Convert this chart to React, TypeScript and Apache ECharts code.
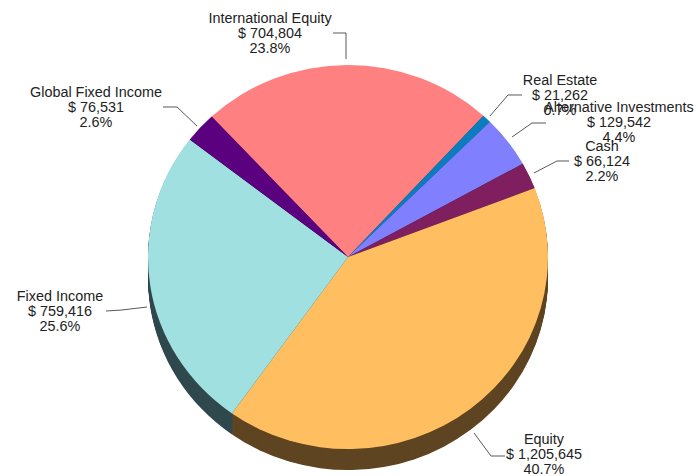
import React, { useEffect, useRef } from "react";
import * as echarts from "echarts";

const categories = ["International Equity", "Real Estate", "Alternative Investments", "Cash", "Equity", "Fixed Income", "Global Fixed Income"];
const values = [704804, 21262, 129542, 66124, 1205645, 759416, 76531];
const faceColors = ["#FF8080", "#0A7DBE", "#8080FF", "#7F1F5F", "#FFBF60", "#A0E0E0", "#5B007F"];
const rimColors = ["#5F3030", "#053048", "#303060", "#300C24", "#5F4522", "#30494E", "#220030"];

// The picture's pie is slightly squashed: the whole chart is drawn tall, then scaled to fit.
const SQUASH = 0.96;
const cx = 348;
const cy = 257 / SQUASH;
const RADIUS = 200;
const DEPTH = 22;

const labelCentres = [[270, 33], [560, 95], [619, 122], [602, 161], [544, 454], [60, 311], [96, 107]];
const leaderLines = [
  [[333, 33], [346, 33], [346, 59]],
  [[522, 95], [508, 95], [490, 116]],
  [[546, 123], [532, 123], [512, 137]],
  [[569, 161], [557, 161], [534, 173]],
  [[505, 456], [491, 456], [474, 433]],
  [[106, 311], [122, 310], [147, 307]],
  [[163, 107], [177, 107], [197, 126]],
];

const unsquash = (p: number[]) => [p[0], p[1] / SQUASH];

export default function App() {
  const ref = useRef<HTMLDivElement>(null);
  useEffect(() => {
    const chart = echarts.init(ref.current!, undefined, { renderer: "svg" });
    const pieBase = {
      type: "pie" as const,
      radius: RADIUS,
      startAngle: 133,
      clockwise: true,
      silent: true,
      avoidLabelOverlap: false,
      percentPrecision: 1,
    };
    const rims = [];
    for (let d = DEPTH; d >= 1; d--) {
      rims.push({
        ...pieBase,
        center: [cx, cy + d],
        label: { show: false },
        labelLine: { show: false },
        data: categories.map((name, i) => ({ name, value: values[i], itemStyle: { color: rimColors[i] } })),
      });
    }
    chart.setOption({
      animation: false,
      backgroundColor: "#ffffff",
      series: [
        ...rims,
        {
          ...pieBase,
          center: [cx, cy],
          data: categories.map((name, i) => ({ name, value: values[i], itemStyle: { color: faceColors[i] } })),
          label: {
            show: true,
            position: "outside",
            fontFamily: "Liberation Sans",
            fontSize: 14.4,
            lineHeight: 16,
            color: "#222222",
            align: "center",
            formatter: (p: any) => `${p.name}\n$ ${p.value.toLocaleString("en-US")}\n${p.percent.toFixed(1)}%`,
          },
          labelLine: { show: true, lineStyle: { color: "#555555", width: 1 } },
          labelLayout: (p: any) => {
            const [x, y] = unsquash(labelCentres[p.dataIndex]);
            return {
              x,
              y,
              align: "center",
              verticalAlign: "middle",
              hideOverlap: false,
              moveOverlap: false,
              labelLinePoints: leaderLines[p.dataIndex].map(unsquash),
            };
          },
        },
      ],
    });
    return () => chart.dispose();
  }, []);
  return (
    <div style={{ position: "fixed", left: 0, top: 0, width: 696, height: 476, overflow: "hidden", background: "#fff" }}>
      <div
        ref={ref}
        style={{ width: 696, height: 496, transform: `scaleY(${SQUASH})`, transformOrigin: "0 0" }}
      />
    </div>
  );
}
